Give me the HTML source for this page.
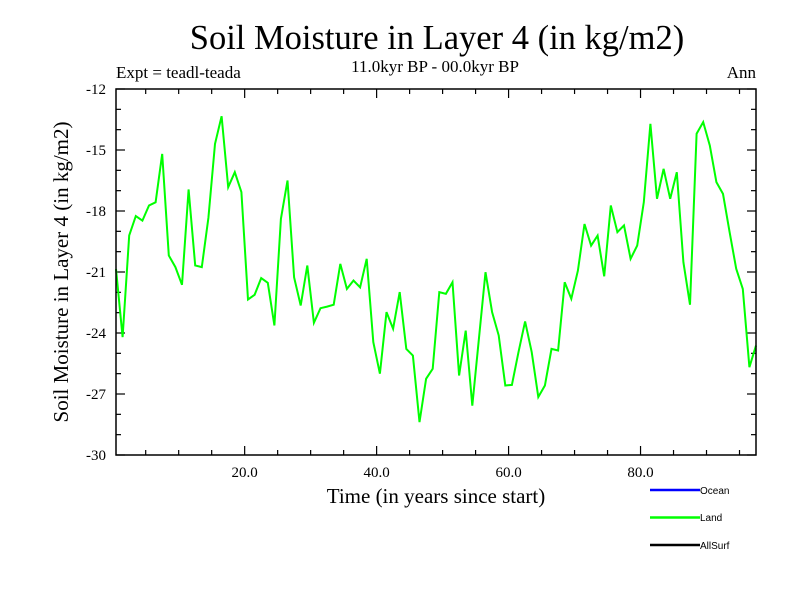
<!DOCTYPE html>
<html><head><meta charset="utf-8"><style>
body{margin:0;background:#fff}
svg{display:block;font-family:"Liberation Serif",serif}
</style></head><body>
<svg id="c" width="800" height="600" viewBox="0 0 800 600">
<rect width="800" height="600" fill="#fff"/>
<text x="437" y="49" font-size="34.5" text-anchor="middle">Soil Moisture in Layer 4 (in kg/m2)</text>
<text x="116" y="78" font-size="17">Expt = teadl-teada</text>
<text x="435" y="72" font-size="17" text-anchor="middle">11.0kyr BP - 00.0kyr BP</text>
<text x="756" y="78" font-size="17" text-anchor="end">Ann</text>
<text x="436" y="503" font-size="21" text-anchor="middle">Time (in years since start)</text>
<text transform="translate(68,272) rotate(-90)" font-size="21" text-anchor="middle">Soil Moisture in Layer 4 (in kg/m2)</text>
<g id="ticks"></g>
<path id="line" fill="none" stroke="#00ff00" stroke-width="2"/>
<rect x="116" y="89" width="640" height="366" fill="none" stroke="#000" stroke-width="1.5"/>
<g font-family="Liberation Sans, sans-serif" font-size="10">
<g><line x1="650" y1="490" x2="700" y2="490" stroke="#0000ff" stroke-width="2.5"/><text x="700" y="494">Ocean</text></g>
<g><line x1="650" y1="517.5" x2="700" y2="517.5" stroke="#00ff00" stroke-width="2.5"/><text x="700" y="521">Land</text></g>
<g><line x1="650" y1="545" x2="700" y2="545" stroke="#000" stroke-width="2.5"/><text x="700" y="549">AllSurf</text></g>
</g>
</svg>
<script>
const landValues=[-20.85,-24.2,-19.2,-18.25,-18.47,-17.73,-17.57,-15.19,-20.19,-20.76,-21.63,-16.94,-20.68,-20.76,-18.34,-14.7,-13.34,-16.83,-16.09,-17.07,-22.35,-22.12,-21.3,-21.53,-23.63,-18.39,-16.5,-21.26,-22.65,-20.68,-23.5,-22.78,-22.7,-22.61,-20.6,-21.83,-21.42,-21.75,-20.35,-24.45,-26.0,-22.97,-23.79,-21.99,-24.78,-25.11,-28.38,-26.25,-25.76,-21.99,-22.07,-21.5,-26.09,-23.88,-27.57,-24.29,-21.01,-22.97,-24.12,-26.58,-26.55,-24.94,-23.43,-24.94,-27.15,-26.58,-24.78,-24.86,-21.5,-22.32,-20.93,-18.64,-19.7,-19.21,-21.21,-17.73,-19.04,-18.71,-20.35,-19.7,-17.57,-13.71,-17.4,-15.93,-17.4,-16.09,-20.52,-22.61,-14.2,-13.63,-14.78,-16.58,-17.16,-19.04,-20.84,-21.83,-25.68,-24.62];
const xTickLabels=["20.0","40.0","60.0","80.0"];
const xTickValues=[20,40,60,80];
const yTickValues=[-12,-15,-18,-21,-24,-27,-30];
const xMin=0.5,xMax=97.5,yMin=-30,yMax=-12;
const L=116,R=756,T=89,B=455;
const sx=v=>L+(v-xMin)/(xMax-xMin)*(R-L);
const sy=v=>B-(v-yMin)/(yMax-yMin)*(B-T);
const NS='http://www.w3.org/2000/svg';
let d='';
landValues.forEach((v,i)=>{d+=(i?'L':'M')+sx(xMin+i).toFixed(1)+','+sy(v).toFixed(1);});
document.getElementById('line').setAttribute('d',d);
const g=document.getElementById('ticks');
function ln(x1,y1,x2,y2){const l=document.createElementNS(NS,'line');l.setAttribute('x1',x1);l.setAttribute('y1',y1);l.setAttribute('x2',x2);l.setAttribute('y2',y2);l.setAttribute('stroke','#000');l.setAttribute('stroke-width','1.2');


g.appendChild(l);}
function tx(x,y,s,a,nm){const t=document.createElementNS(NS,'text');t.setAttribute('x',x);t.setAttribute('y',y);t.setAttribute('font-size','15');t.setAttribute('text-anchor',a);t.textContent=s;


g.appendChild(t);}
for(let v=5;v<xMax;v+=5){const x=sx(v);const len=v%20===0?9:5;ln(x,B,x,B-len);ln(x,T,x,T+len);}
xTickValues.forEach((v,i)=>tx(sx(v),477,xTickLabels[i],'middle','x-tick-label'));
for(let v=yMin;v<=yMax;v+=1){const y=sy(v);const len=(v%3===0)?9:5;ln(L,y,L+len,y);ln(R,y,R-len,y);}
yTickValues.forEach(v=>tx(106,sy(v)+5,String(v),'end','y-tick-label'));
</script>
</body></html>
